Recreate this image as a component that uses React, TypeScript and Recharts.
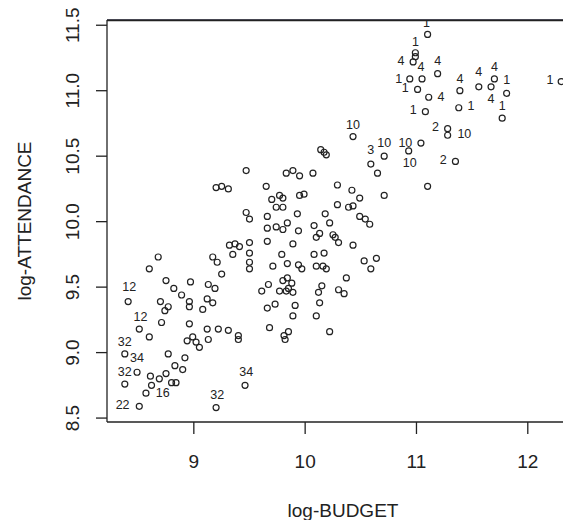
import { ScatterChart, Scatter, XAxis, YAxis, Label, ReferenceLine } from 'recharts';

// films: log-budget vs log-attendance (open circles)
const budget = [
  8.38, 8.38, 8.49, 8.51, 8.57, 8.62, 8.61, 8.69, 8.75, 8.80, 8.84, 8.77, 8.83, 8.90, 8.92,
  8.41, 8.51, 8.60, 8.71, 8.70, 8.77, 8.74, 8.96, 8.96, 8.96, 8.99, 8.94, 9.02, 9.05,
  8.68, 8.60, 8.75, 8.82, 8.89, 8.97, 9.20, 9.46,
  9.08, 9.12, 9.17, 9.13, 9.19, 9.17, 9.21, 9.25, 9.32, 9.37, 9.41, 9.35, 9.50, 9.50, 9.50, 9.50,
  9.12, 9.22, 9.31, 9.40, 9.40, 9.13,
  9.47, 9.20, 9.25, 9.31, 9.47, 9.50, 9.65, 9.70, 9.77, 9.80, 9.74, 9.80, 9.83, 9.89, 9.95,
  9.66, 9.93, 9.84, 9.66, 9.74, 9.80, 9.94, 9.66, 9.89, 9.79, 9.84, 9.71, 9.94, 9.97,
  9.80, 9.84, 9.88, 9.85, 9.83, 9.89, 9.77, 9.67, 9.61,
  9.66, 9.73, 9.91, 9.89, 9.68, 9.85, 9.81, 9.82,
  10.14, 10.17, 10.19, 10.43, 10.59, 10.71, 10.65, 10.71, 10.07, 10.29, 10.42, 10.49,
  9.95, 9.99, 10.29, 10.39, 10.43, 10.18, 10.49, 10.54, 10.58, 10.22, 10.08, 10.13, 10.10,
  10.25, 10.27, 10.30, 10.43, 10.08, 10.17, 10.10, 10.16, 10.19, 10.37, 10.53, 10.59, 10.64,
  10.15, 10.12, 10.30, 10.35, 10.13, 10.10, 10.22,
  10.93, 11.04, 11.10, 11.35, 11.28, 11.28, 11.10, 10.99, 10.99, 10.97, 11.19, 10.94, 11.05,
  11.01, 11.11, 11.39, 11.56, 11.70, 11.67, 11.81, 11.38, 11.77, 11.08, 12.30,
];

const attendance = [
  8.99, 8.76, 8.85, 8.59, 8.69, 8.75, 8.82, 8.80, 8.84, 8.77, 8.77, 8.99, 8.90, 8.87, 8.96,
  9.39, 9.18, 9.12, 9.23, 9.39, 9.35, 9.32, 9.39, 9.35, 9.22, 9.12, 9.09, 9.08, 9.04,
  9.73, 9.64, 9.55, 9.49, 9.44, 9.54, 8.58, 8.75,
  9.33, 9.41, 9.38, 9.52, 9.49, 9.73, 9.69, 9.60, 9.82, 9.83, 9.81, 9.75, 9.84, 9.76, 9.69, 9.64,
  9.18, 9.18, 9.17, 9.13, 9.10, 9.10,
  10.39, 10.26, 10.27, 10.25, 10.07, 10.02, 10.27, 10.17, 10.20, 10.18, 10.11, 10.11, 10.37, 10.39, 10.35,
  10.04, 10.06, 9.99, 9.95, 9.96, 9.94, 9.93, 9.85, 9.83, 9.75, 9.68, 9.66, 9.67, 9.64,
  9.55, 9.57, 9.53, 9.49, 9.47, 9.46, 9.47, 9.52, 9.47,
  9.34, 9.37, 9.36, 9.28, 9.19, 9.16, 9.13, 9.10,
  10.55, 10.53, 10.51, 10.65, 10.44, 10.50, 10.37, 10.20, 10.37, 10.28, 10.24, 10.18,
  10.20, 10.21, 10.13, 10.11, 10.12, 10.06, 10.04, 10.02, 9.98, 9.99, 9.97, 9.91, 9.88,
  9.90, 9.88, 9.84, 9.82, 9.75, 9.76, 9.66, 9.66, 9.64, 9.57, 9.70, 9.64, 9.72,
  9.51, 9.46, 9.48, 9.45, 9.38, 9.28, 9.16,
  10.54, 10.60, 10.27, 10.46, 10.71, 10.66, 11.43, 11.29, 11.26, 11.22, 11.13, 11.09, 11.09,
  11.01, 10.95, 11.00, 11.03, 11.09, 11.03, 10.98, 10.87, 10.79, 10.84, 11.07,
];

// group numbers written next to some of the points
const tagText = [
  '12', '12', '32', '34', '32', '16', '22', '32', '34',
  '10', '3', '10', '10', '10', '2', '10', '2',
  '1', '1', '4', '4', '4', '1', '1', '4', '4', '4', '4', '1', '4', '1', '1', '1', '1',
];
const tagBudget = [
  8.42, 8.52, 8.38, 8.49, 8.38, 8.72, 8.36, 9.21, 9.47,
  10.43, 10.59, 10.71, 10.90, 10.94, 11.17, 11.43, 11.24,
  11.09, 10.99, 10.86, 11.04, 11.19, 10.84, 10.90, 11.22, 11.39, 11.56, 11.70, 11.81, 11.67, 11.49, 11.77, 10.97, 12.20,
];
const tagAttendance = [
  9.50, 9.27, 9.08, 8.96, 8.85, 8.69, 8.60, 8.68, 8.85,
  10.74, 10.55, 10.60, 10.60, 10.45, 10.72, 10.67, 10.47,
  11.52, 11.37, 11.23, 11.18, 11.23, 11.09, 11.02, 10.95, 11.09, 11.14, 11.18, 11.08, 10.94, 10.88, 10.88, 10.85, 11.08,
];

const xTicks = [9, 10, 11, 12];
const yTicks = [8.5, 9, 9.5, 10, 10.5, 11, 11.5];

const points = budget.map((x, i) => ({ x, y: attendance[i] }));
const tags = tagText.map((t, i) => ({ x: tagBudget[i], y: tagAttendance[i], t }));

const FONT = '"Liberation Sans", Arial, Helvetica, sans-serif';
const INK = '#222';
const X_DOMAIN = [8.22, 12.46];
const Y_DOMAIN = [8.47, 11.54];

const W = 571;
const H = 528;
const TOP = 20; // chart top margin = top edge of the plot frame
const Y_AXIS_W = 107; // left edge of the plot frame

function Dot(props: any) {
  return <circle cx={props.cx} cy={props.cy} r={3} fill="none" stroke={INK} strokeWidth={1.2} />;
}

function Tag(props: any) {
  const t = props.payload?.t ?? props.t;
  return (
    <text x={props.cx} y={props.cy} textAnchor="middle" dominantBaseline="central"
      fontSize={12.5} fontFamily={FONT} fill={INK}>
      {t}
    </text>
  );
}

function XTick({ x, y, payload }: any) {
  return (
    <text x={x} y={y + 25} textAnchor="middle" dominantBaseline="central"
      fontSize={19} fontFamily={FONT} fill={INK}>
      {payload.value}
    </text>
  );
}

function YTick({ x, y, payload }: any) {
  const tx = x - 21;
  return (
    <text x={tx} y={y} transform={`rotate(-90, ${tx}, ${y})`} textAnchor="middle"
      dominantBaseline="central" fontSize={19} fontFamily={FONT} fill={INK}>
      {payload.value.toFixed(1)}
    </text>
  );
}

export default function App() {
  const axisLine = { stroke: INK, strokeWidth: 1.3 };
  return (
    <div style={{ margin: -8, width: W, height: H, overflow: 'hidden', background: '#fff', position: 'relative' }}>
      <ScatterChart width={580} height={H} margin={{ top: TOP, right: 1, bottom: 0, left: 0 }}>
        <XAxis dataKey="x" type="number" domain={X_DOMAIN} ticks={xTicks} allowDataOverflow
          height={106} tickSize={12} axisLine={axisLine} tickLine={axisLine} tick={<XTick />}>
          <Label content={(p: any) => {
            const vb = p.viewBox;
            return (
              <text x={vb.x + vb.width / 2} y={vb.y + 88} textAnchor="middle" dominantBaseline="central"
                fontSize={19} fontFamily={FONT} fill={INK}>
                log-BUDGET
              </text>
            );
          }} />
        </XAxis>
        <YAxis dataKey="y" type="number" domain={Y_DOMAIN} ticks={yTicks} allowDataOverflow
          width={Y_AXIS_W} tickSize={11} axisLine={axisLine} tickLine={axisLine} tick={<YTick />}>
          <Label content={(p: any) => {
            const vb = p.viewBox;
            const cx = vb.x + 24;
            const cy = vb.y + vb.height / 2;
            return (
              <text x={cx} y={cy} transform={`rotate(-90, ${cx}, ${cy})`} textAnchor="middle"
                dominantBaseline="central" fontSize={19} fontFamily={FONT} fill={INK}>
                log-ATTENDANCE
              </text>
            );
          }} />
        </YAxis>
        <ReferenceLine y={Y_DOMAIN[1]} stroke="#1a1a2e" strokeWidth={1.5} ifOverflow="visible" />
        <Scatter data={points} shape={<Dot />} isAnimationActive={false} />
        <Scatter data={tags} shape={<Tag />} isAnimationActive={false} />
      </ScatterChart>
      {/* top side of the plot frame (the right side lies outside the picture) */}
      <svg width={W} height={H} style={{ position: 'absolute', left: 0, top: 0, pointerEvents: 'none' }}>
        <line x1={Y_AXIS_W} y1={TOP + 0.5} x2={W} y2={TOP + 0.5} stroke={INK} strokeWidth={1.5} />
      </svg>
    </div>
  );
}
